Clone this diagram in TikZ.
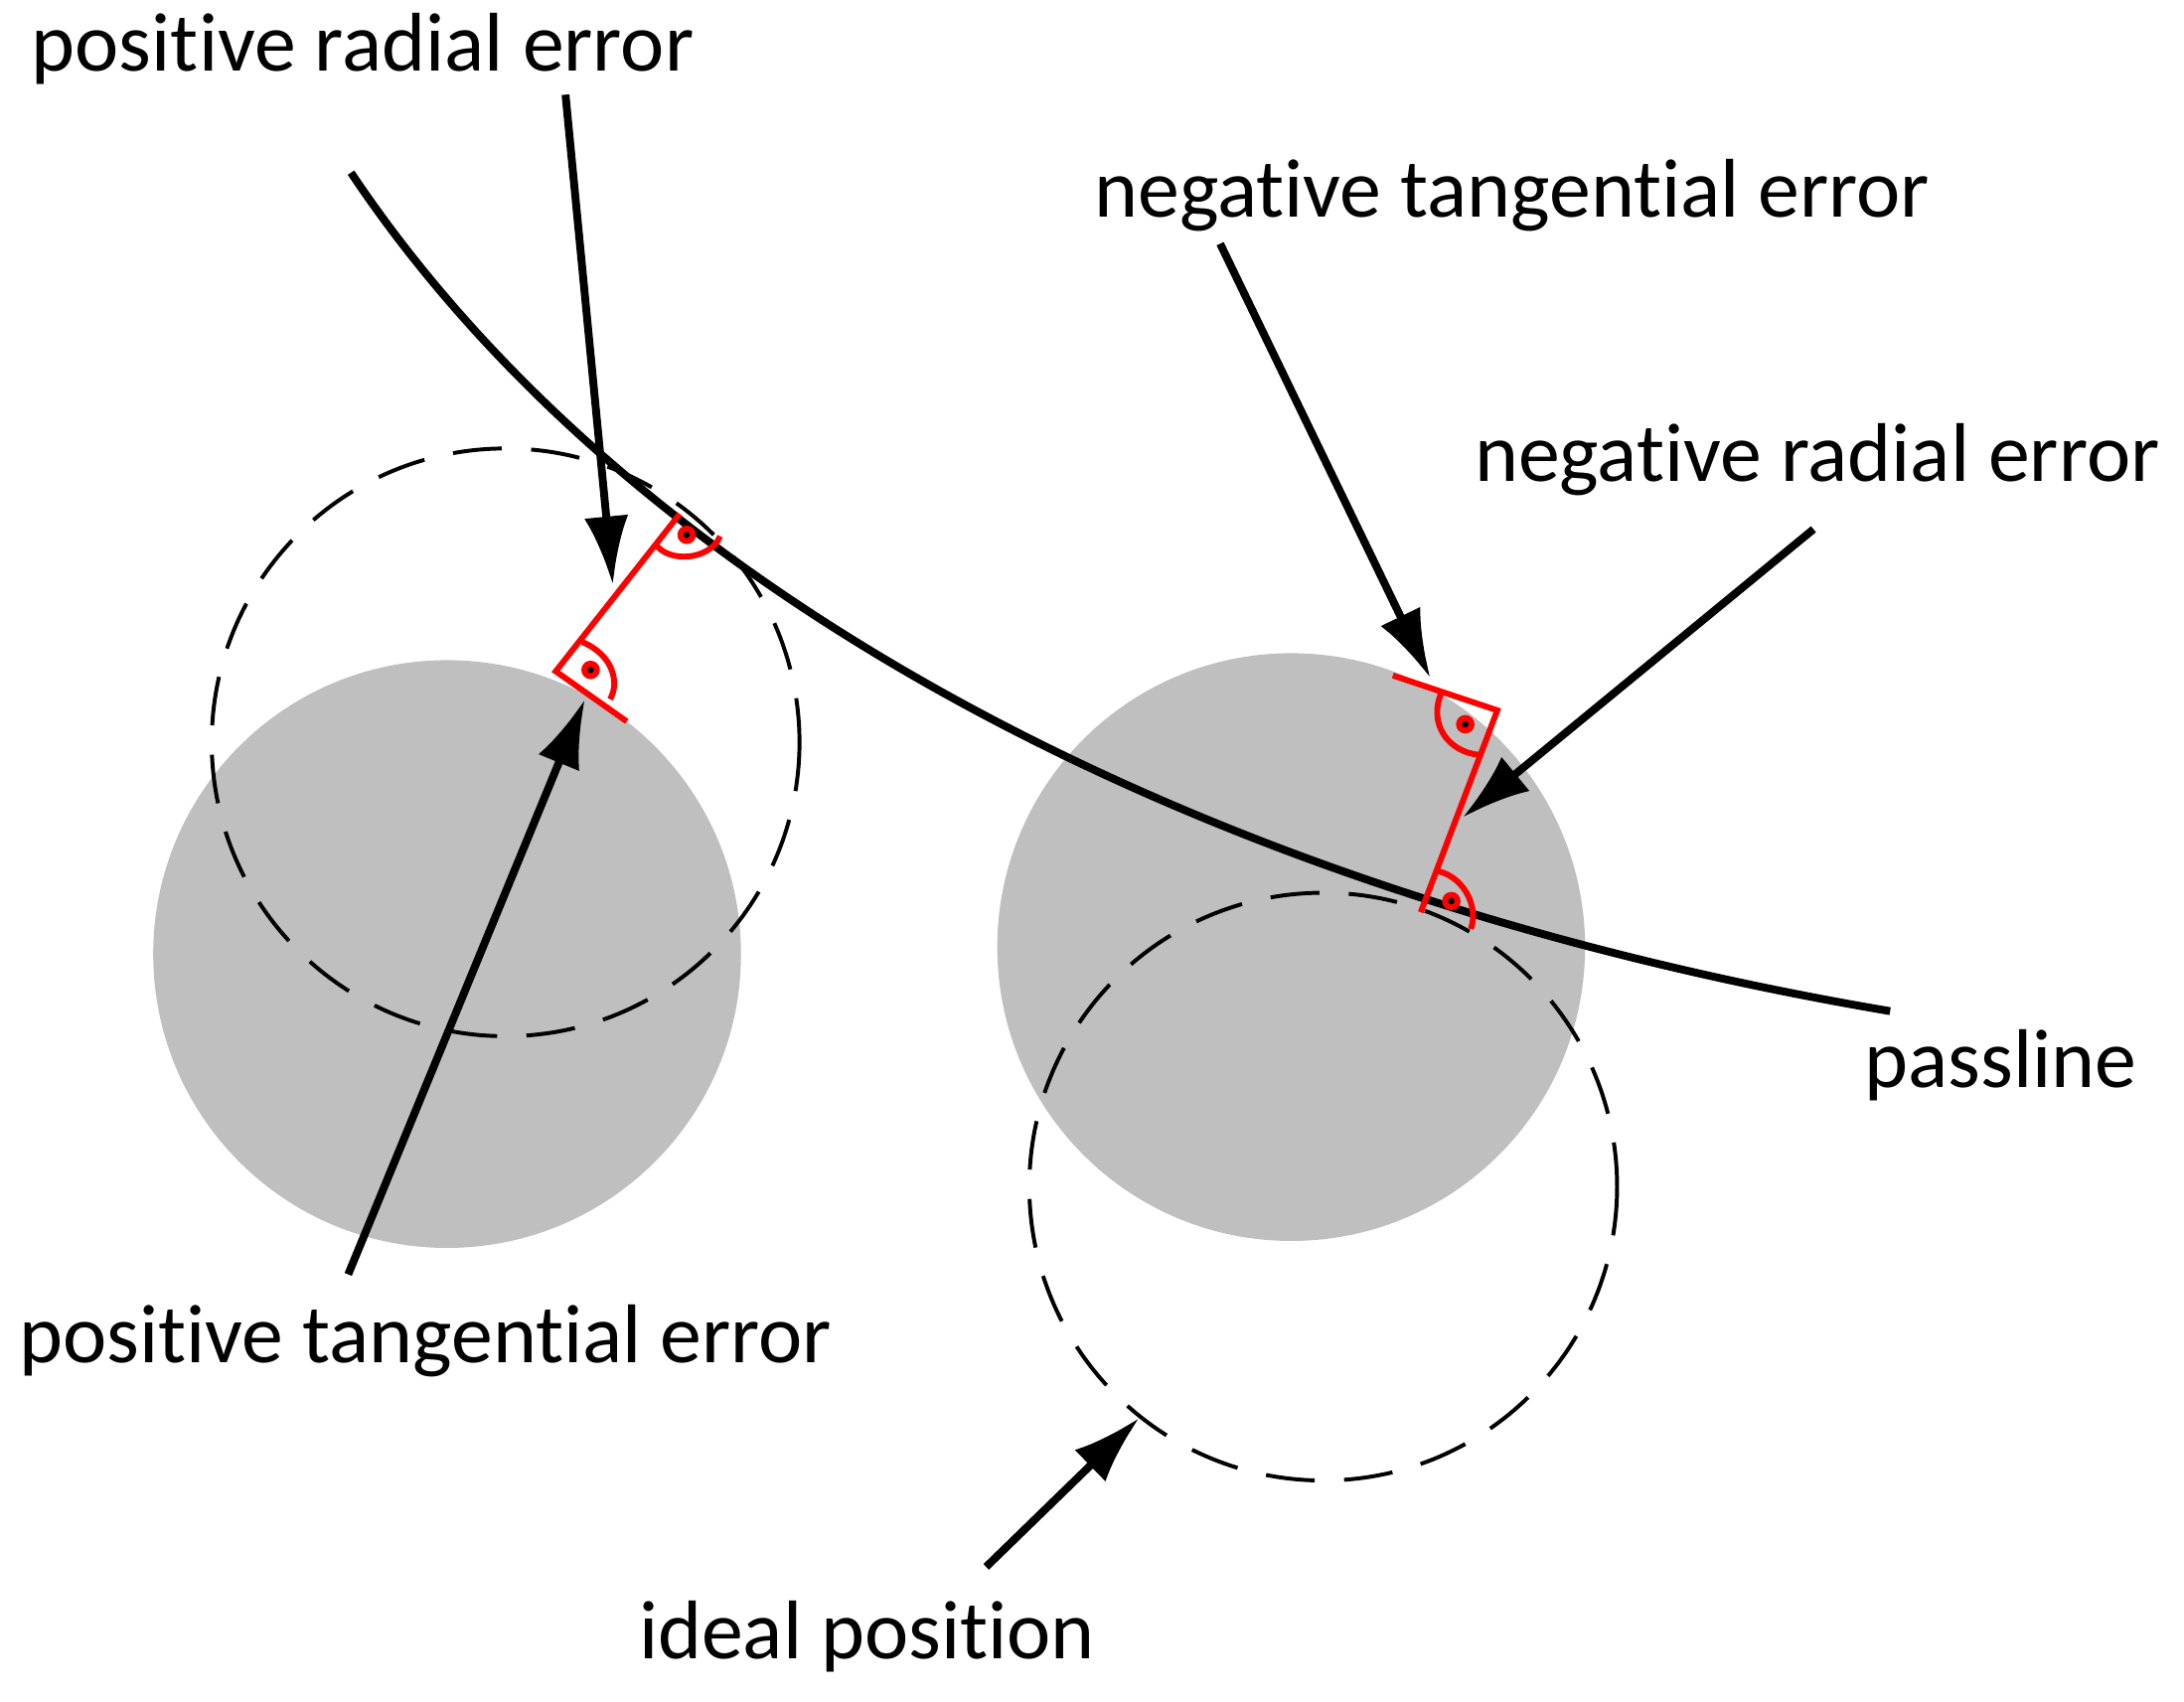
\documentclass[tikz,border=0pt]{standalone}
\usepackage{fontspec}
\setmainfont{Carlito}[RawFeature={-liga;-clig}]
\usetikzlibrary{arrows.meta}
\begin{document}
\begin{tikzpicture}[x=0.01cm,y=-0.01cm,
  lbl/.style={anchor=west,inner sep=0pt,font=\fontsize{17}{19}\selectfont},
  arr/.style={line width=1.6pt,-{Latex[length=14pt,width=9pt]}},
  dsh/.style={line width=0.8pt,dash pattern=on 10pt off 6pt},
  red/.style={draw=red,line width=1.2pt},
  ang/.style={draw=red,line width=1.2pt}]
\useasboundingbox (0,0) rectangle (1568,1222);
\fill[gray!50] (321,685) circle (211);
\fill[gray!50] (927,680) circle (211);
\draw[dsh] (363,533) circle (211);
\draw[dsh] (950,852) circle (211);
\draw[line width=1.6pt] (252,124) .. controls (450,420) and (850,640) .. (1357,726);
% left red
\coordinate (l1) at (488,369);
\coordinate (l2) at (399,482);
\draw[red] (l1) -- (l2) -- (450,518);
\draw[ang] (470,390) .. controls (480,405) and (510,402) .. (517,385);
\fill[red] (493,384) circle (4.5);
\draw[ang] (418,461) .. controls (440,470) and (445,490) .. (438,502);
\fill[red] (424,481) circle (4.5);
% right red
\draw[red] (1020,655) -- (1075,510) -- (1000,485);
\draw[ang] (1035,497) .. controls (1025,520) and (1040,540) .. (1062,542);
\fill[red] (1052,520) circle (4.5);
\draw[ang] (1030,625) .. controls (1050,628) and (1062,650) .. (1056,667);
\fill[red] (1042,647) circle (4.5);
% labels
\node[lbl] (prl) at (22,35) {positive radial error};
\node[lbl] (ntl) at (785,140) {negative tangential error};
\node[lbl] (nrl) at (1058,330) {negative radial error};
\node[lbl] (pl) at (1338,765) {passline};
\node[lbl] (ptl) at (13,963) {positive tangential error};
\node[lbl] (ipl) at (458,1175) {ideal position};
% arrows
\coordinate (a1) at (406,68); \coordinate (b1) at (440,420);
\coordinate (a2) at (250,915); \coordinate (b2) at (420,502);
\coordinate (a3) at (876,175); \coordinate (b3) at (1027,487);
\coordinate (a4) at (1302,380); \coordinate (b4) at (1050,587);
\coordinate (a5) at (708,1125); \coordinate (b5) at (818,1018);
\draw[arr] (a1) -- (b1);
\draw[arr] (a2) -- (b2);
\draw[arr] (a3) -- (b3);
\draw[arr] (a4) -- (b4);
\draw[arr] (a5) -- (b5);
\end{tikzpicture}
\end{document}
